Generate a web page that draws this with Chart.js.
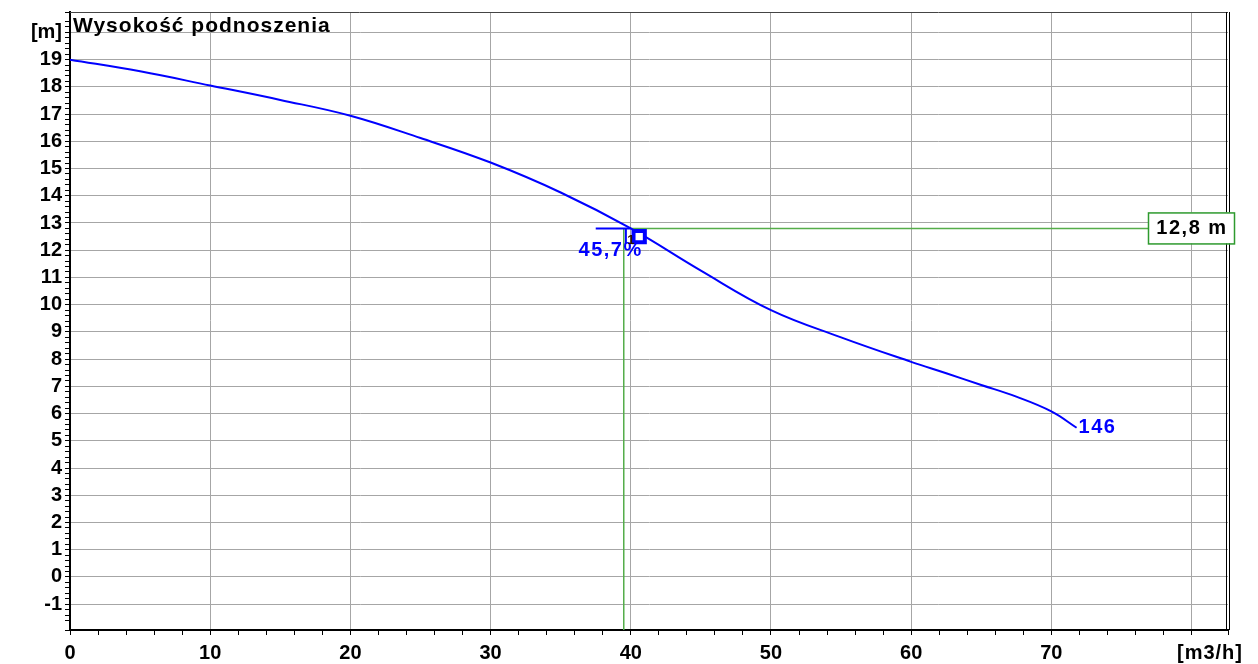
<!DOCTYPE html>
<html>
<head>
<meta charset="utf-8">
<title>Wysokość podnoszenia</title>
<script src="https://cdn.jsdelivr.net/npm/chart.js"></script>
<style>
  html, body { margin: 0; padding: 0; background: #fff; }
</style>
</head>
<body>
<canvas id="pumpChart" width="1258" height="664"></canvas>
<script>
  // krzywa pompy (Q [m3/h], H [m])
  var flowQ = [0, 5, 10, 15, 20, 25, 30, 35, 40, 45, 50, 55, 60, 62.5, 65, 67.5, 70, 71.8];
  var headH = [19.0, 18.57, 18.05, 17.52, 16.94, 16.12, 15.22, 14.12, 12.8, 11.25, 9.8, 8.8, 7.9, 7.48, 7.05, 6.62, 6.08, 5.48];
  var curveName = '146';

  // punkt pracy
  var dutyQ = 39.5;
  var dutyH = 12.8;
  var markerQ = 40.6;
  var markerH = 12.5;
  var efficiencyText = '45,7%';
  var headText = '12,8 m';

  // osie
  var xMin = 0, xMax = 82.6;
  var yMin = -1.95, yMax = 20.75;
  var titleText = 'Wysokość podnoszenia';
  var yUnit = '[m]';
  var xUnit = '[m3/h]';

  var BLUE = '#0000ff';
  var GREEN = '#55ad4a';
  var GRID = '#a6a6a6';
  var FONT = '"Liberation Sans", Arial, sans-serif';

  Chart.defaults.font.family = FONT;

  function isWhole(v, step) {
    var r = v / step;
    return Math.abs(r - Math.round(r)) < 1e-6;
  }

  var curvePoints = flowQ.map(function (q, i) { return { x: q, y: headH[i] }; });

  var decorPlugin = {
    id: 'decor',
    afterDatasetsDraw: function (chart) {
      var ctx = chart.ctx;
      var a = chart.chartArea;
      var xs = chart.scales.x, ys = chart.scales.y;
      ctx.save();

      // ramka: góra i podwójna prawa krawędź
      ctx.strokeStyle = '#444';
      ctx.lineWidth = 1;
      ctx.beginPath();
      ctx.moveTo(a.left, a.top + 0.5);
      ctx.lineTo(a.right, a.top + 0.5);
      ctx.stroke();
      ctx.strokeStyle = '#000';
      ctx.beginPath();
      ctx.moveTo(a.right - 1.5, a.top);
      ctx.lineTo(a.right - 1.5, a.bottom);
      ctx.moveTo(a.right + 1.5, a.top);
      ctx.lineTo(a.right + 1.5, a.bottom);
      ctx.stroke();

      ctx.letterSpacing = '1px';
      ctx.textBaseline = 'middle';

      // tytuł
      ctx.fillStyle = '#000';
      ctx.font = 'bold 21px ' + FONT;
      ctx.textAlign = 'left';
      ctx.fillText(titleText, a.left + 3, 26);

      // jednostka osi X
      ctx.font = 'bold 20px ' + FONT;
      ctx.textAlign = 'center';
      ctx.fillText(xUnit, a.right - 18, 653);

      // sprawność
      ctx.letterSpacing = '1.5px';
      var px = xs.getPixelForValue(dutyQ);
      var py = ys.getPixelForValue(dutyH);
      ctx.fillStyle = BLUE;
      ctx.font = 'bold 20px ' + FONT;
      ctx.textAlign = 'right';
      ctx.fillText(efficiencyText, px + 19, py + 22);

      // mały numer punktu
      ctx.letterSpacing = '0px';
      ctx.fillStyle = '#2a1200';
      ctx.font = 'bold 13px ' + FONT;
      ctx.textAlign = 'center';
      ctx.fillText('1', px + 7, py + 12);

      // nazwa krzywej
      ctx.letterSpacing = '1.5px';
      var last = curvePoints[curvePoints.length - 1];
      ctx.fillStyle = BLUE;
      ctx.font = 'bold 20px ' + FONT;
      ctx.textAlign = 'left';
      ctx.fillText(curveName, xs.getPixelForValue(last.x) + 2, ys.getPixelForValue(last.y));

      // etykieta wysokości
      var bx = 1148, bw = 86, bh = 31;
      var by = py - 16;
      ctx.fillStyle = '#fff';
      ctx.fillRect(bx, by, bw, bh);
      ctx.strokeStyle = '#2e9a2e';
      ctx.lineWidth = 1.5;
      ctx.strokeRect(bx + 0.5, by + 0.5, bw, bh);
      ctx.fillStyle = '#000';
      ctx.textAlign = 'center';
      ctx.fillText(headText, bx + bw / 2 + 1, by + bh / 2 + 1);

      ctx.restore();
    }
  };

  new Chart(document.getElementById('pumpChart'), {
    type: 'scatter',
    data: {
      datasets: [
        {
          data: [{ x: markerQ, y: markerH }],
          showLine: false,
          pointStyle: 'rect',
          pointRadius: 8,
          borderWidth: 4,
          borderColor: BLUE,
          backgroundColor: '#fff'
        },
        {
          data: curvePoints,
          showLine: true,
          borderColor: BLUE,
          borderWidth: 2,
          pointRadius: 0,
          tension: 0.4
        },
        {
          data: [{ x: 37.5, y: dutyH }, { x: 40, y: dutyH }],
          showLine: true,
          borderColor: BLUE,
          borderWidth: 2,
          pointRadius: 0
        },
        {
          data: [{ x: 39.65, y: dutyH }, { x: 39.65, y: 12.25 }],
          showLine: true,
          borderColor: BLUE,
          borderWidth: 2,
          pointRadius: 0
        },
        {
          data: [{ x: 40, y: dutyH }, { x: xMax, y: dutyH }],
          showLine: true,
          borderColor: GREEN,
          borderWidth: 1.5,
          pointRadius: 0
        },
        {
          data: [{ x: dutyQ, y: dutyH }, { x: dutyQ, y: yMin }],
          showLine: true,
          borderColor: GREEN,
          borderWidth: 1.5,
          pointRadius: 0
        }
      ]
    },
    options: {
      responsive: false,
      animation: false,
      layout: { padding: { top: 8, right: 30, left: 0, bottom: 0 } },
      plugins: {
        legend: { display: false },
        tooltip: { enabled: false }
      },
      scales: {
        x: {
          type: 'linear',
          min: xMin,
          max: xMax,
          afterFit: function (s) {
            s.height = 34;
            s.paddingLeft = 0;
            s.paddingRight = 0;
          },
          border: { display: true, color: '#000', width: 2 },
          grid: {
            color: function (c) { return isWhole(c.tick.value, 10) ? GRID : 'rgba(0,0,0,0)'; },
            lineWidth: 1,
            tickColor: '#000',
            tickLength: 5
          },
          ticks: {
            stepSize: 2,
            autoSkip: false,
            maxRotation: 0,
            padding: 6,
            color: '#000',
            font: { size: 20, weight: 'bold' },
            callback: function (v) {
              return (isWhole(v, 10) && v < 80) ? String(Math.round(v)) : '';
            }
          }
        },
        y: {
          type: 'linear',
          min: yMin,
          max: yMax,
          afterFit: function (s) {
            s.width = 70;
            s.paddingTop = 0;
            s.paddingBottom = 0;
          },
          border: { display: true, color: '#000', width: 2 },
          grid: {
            color: function (c) { return isWhole(c.tick.value, 1) ? GRID : 'rgba(0,0,0,0)'; },
            lineWidth: 1,
            tickColor: '#000',
            tickLength: 5
          },
          ticks: {
            stepSize: 0.2,
            autoSkip: false,
            padding: 3,
            color: '#000',
            font: { size: 20, weight: 'bold' },
            callback: function (v) {
              if (!isWhole(v, 1)) return '';
              var n = Math.round(v);
              if (n === 20) return yUnit;
              return String(n);
            }
          }
        }
      }
    },
    plugins: [decorPlugin]
  });
</script>
</body>
</html>
